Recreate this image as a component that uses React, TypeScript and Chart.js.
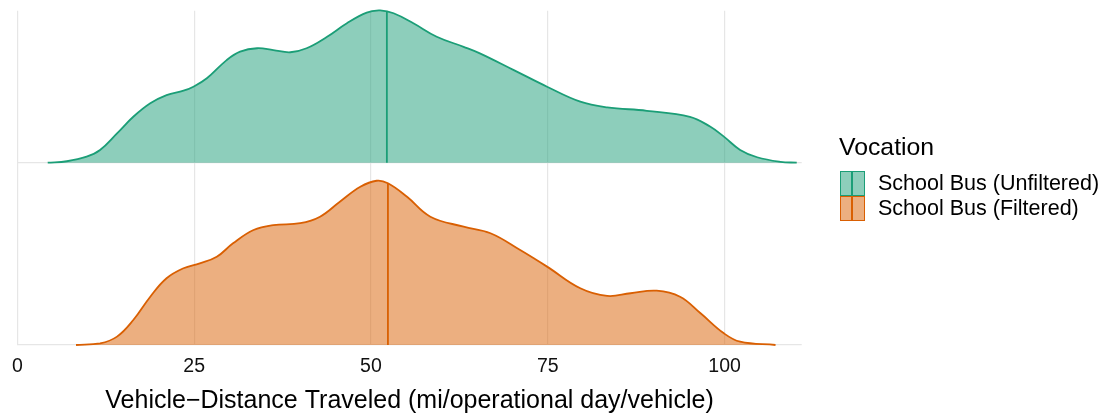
import React, { useEffect, useRef } from 'react';
import { Chart, registerables } from 'chart.js';

Chart.register(...registerables);

const CATEGORIES = ['School Bus (Unfiltered)', 'School Bus (Filtered)'];
const LINE_COLORS = ['#1B9E77', '#D95F02'];
const FILL_COLORS = ['rgba(27,158,119,0.5)', 'rgba(217,95,2,0.5)'];
const RIDGE_OFFSETS = [1, 0];
const X_TICKS = [0, 25, 50, 75, 100];
const X_TITLE = 'Vehicle\u2212Distance Traveled (mi/operational day/vehicle)';
const LEGEND_TITLE = 'Vocation';

const UNFILTERED_X = [4.3, 7.0, 9.8, 11.7, 14.1, 16.4, 18.8, 21.1, 23.5, 24.9, 26.8, 29.6, 31.5, 33.9, 36.2, 38.6, 40.9, 43.8, 46.6, 49.4, 51.3, 53.2, 56.0, 59.3, 63.1, 65.4, 70.2, 74.9, 79.6, 83.4, 89.0, 95.1, 98.0, 99.9, 102.2, 104.6, 107.9, 110.2];
const UNFILTERED_DENSITY = [0, 0.008, 0.033, 0.07, 0.161, 0.252, 0.326, 0.371, 0.395, 0.417, 0.463, 0.563, 0.609, 0.628, 0.618, 0.606, 0.628, 0.691, 0.765, 0.823, 0.836, 0.82, 0.765, 0.691, 0.636, 0.6, 0.508, 0.417, 0.335, 0.304, 0.285, 0.252, 0.197, 0.143, 0.07, 0.03, 0.005, 0];

const FILTERED_X = [8.3, 11.7, 14.1, 16.4, 18.8, 21.1, 23.5, 25.8, 28.2, 30.5, 33.4, 36.2, 40.0, 42.8, 45.6, 48.5, 50.8, 52.4, 55.1, 58.4, 63.1, 66.9, 71.1, 74.9, 79.6, 83.4, 86.7, 90.4, 93.7, 96.6, 99.9, 102.2, 107.2];
const FILTERED_DENSITY = [0, 0.009, 0.046, 0.137, 0.265, 0.366, 0.421, 0.448, 0.484, 0.558, 0.631, 0.658, 0.668, 0.704, 0.786, 0.868, 0.901, 0.887, 0.813, 0.704, 0.649, 0.613, 0.521, 0.43, 0.311, 0.269, 0.284, 0.298, 0.265, 0.174, 0.064, 0.018, 0];

const MEDIANS = [52.25, 52.4];

const SERIES_X = [UNFILTERED_X, FILTERED_X];
const SERIES_DENSITY = [UNFILTERED_DENSITY, FILTERED_DENSITY];

const FONT = '"Liberation Sans", Arial, sans-serif';
const W = 1108;
const H = 417;

function densityAt(xs: number[], ds: number[], x: number): number {
  for (let i = 0; i < xs.length - 1; i++) {
    if (x >= xs[i] && x <= xs[i + 1]) {
      const t = (x - xs[i]) / (xs[i + 1] - xs[i]);
      return ds[i] + t * (ds[i + 1] - ds[i]);
    }
  }
  return 0;
}

export default function App() {
  const ref = useRef<HTMLCanvasElement | null>(null);

  useEffect(() => {
    if (!ref.current) return;
    const datasets: any[] = [];
    CATEGORIES.forEach((name, i) => {
      const off = RIDGE_OFFSETS[i];
      datasets.push({
        label: name,
        data: SERIES_X[i].map((x, j) => ({ x, y: off + SERIES_DENSITY[i][j] })),
        borderColor: LINE_COLORS[i],
        backgroundColor: FILL_COLORS[i],
        borderWidth: 1.8,
        fill: { value: off },
        tension: 0.4,
        pointRadius: 0,
        clip: false,
      });
      const m = MEDIANS[i];
      const h = densityAt(SERIES_X[i], SERIES_DENSITY[i], m);
      datasets.push({
        label: name + ' median',
        data: [{ x: m, y: off }, { x: m, y: off + h }],
        borderColor: LINE_COLORS[i],
        borderWidth: 1.8,
        fill: false,
        pointRadius: 0,
        clip: false,
      });
    });

    const chart = new Chart(ref.current, {
      type: 'line',
      data: { datasets },
      options: {
        animation: false,
        responsive: false,
        maintainAspectRatio: false,
        layout: { padding: { left: 17.3, right: W - 801.7, top: 10.7, bottom: 0 } },
        plugins: { legend: { display: false }, tooltip: { enabled: false } },
        scales: {
          x: {
            type: 'linear',
            min: 0,
            max: 110.9,
            afterBuildTicks: (s: any) => { s.ticks = X_TICKS.map((v) => ({ value: v })); },
            afterFit: (s: any) => { s.height = H - 345; },
            grid: { color: '#e6e6e6', lineWidth: 1.2, drawTicks: false },
            border: { display: false },
            ticks: {
              padding: 10,
              color: '#111111',
              font: { family: FONT, size: 19.5 },
              maxRotation: 0,
            },
            title: {
              display: true,
              text: X_TITLE,
              color: '#000000',
              font: { family: FONT, size: 25 },
              padding: { top: 0, bottom: 1 },
            },
          },
          y: {
            type: 'linear',
            min: 0,
            max: 1.834,
            afterBuildTicks: (s: any) => { s.ticks = RIDGE_OFFSETS.map((v) => ({ value: v })); },
            afterFit: (s: any) => { s.width = 0; },
            grid: { color: '#e6e6e6', lineWidth: 1.2, drawTicks: false },
            border: { display: false },
            ticks: { display: false },
          },
        },
      },
    });
    return () => chart.destroy();
  }, []);

  return (
    <div style={{ position: 'fixed', left: 0, top: 0, width: W, height: H, overflow: 'hidden', background: '#fff', fontFamily: FONT }}>
      <canvas ref={ref} width={W} height={H} style={{ position: 'absolute', left: 0, top: 0, width: W, height: H }} />
      <div style={{ position: 'absolute', left: 839, top: 134.5, fontSize: 24.8, lineHeight: '24.8px', color: '#000', whiteSpace: 'nowrap' }}>{LEGEND_TITLE}</div>
      {CATEGORIES.map((name, i) => (
        <React.Fragment key={name}>
          <div style={{ position: 'absolute', left: 839.5, top: 170.7 + i * 25, width: 25.5, height: 25, boxSizing: 'border-box', border: `1.8px solid ${LINE_COLORS[i]}`, background: FILL_COLORS[i] }}>
            <div style={{ position: 'absolute', left: 10.9, top: 0, width: 1.8, height: '100%', background: LINE_COLORS[i] }} />
          </div>
          <div style={{ position: 'absolute', left: 878, top: 170.7 + i * 25, height: 25, lineHeight: '25px', fontSize: 21.5, color: '#000', whiteSpace: 'nowrap' }}>{name}</div>
        </React.Fragment>
      ))}
    </div>
  );
}
